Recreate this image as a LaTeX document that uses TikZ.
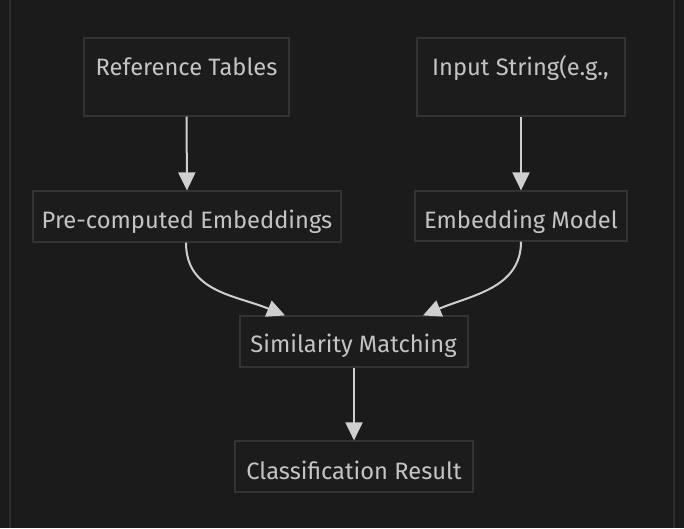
\documentclass[tikz,border=0pt]{standalone}
\usepackage{fontspec}
\setmainfont{Fira Sans}
\usetikzlibrary{arrows.meta}
\definecolor{bgc}{HTML}{1B1B1B}
\definecolor{framec}{HTML}{2E2E2E}
\definecolor{boxline}{HTML}{333333}
\definecolor{boxfill}{HTML}{1C1C1C}
\definecolor{txtc}{HTML}{C4C4C4}
\definecolor{arrc}{HTML}{CFCFCF}
\begin{document}
\begin{tikzpicture}[x=1pt,y=-1pt,
  box/.style={draw=boxline, line width=1.2pt, fill=boxfill, rectangle, inner sep=0pt},
  lbl/.style={text=txtc, anchor=base, inner sep=0pt, font=\fontsize{23.7}{28}\selectfont},
  flow/.style={draw=arrc, line width=2pt, -{Triangle[length=18pt,width=17pt]}}]
\fill[bgc] (0,0) rectangle (684,528);
\useasboundingbox (0,0) rectangle (684,528);
\draw[framec, line width=1.2pt] (10,0) -- (10,528);
\draw[framec, line width=1.2pt] (674,0) -- (674,528);
% boxes
\node[box, minimum width=205pt, minimum height=78pt] (ref) at (186.5,77) {};
\node[box, minimum width=208pt, minimum height=78pt] (inp) at (521,77) {};
\node[box, minimum width=308pt, minimum height=51pt] (pre) at (187,216.5) {};
\node[box, minimum width=212pt, minimum height=50pt] (emb) at (521,216) {};
\node[box, minimum width=228pt, minimum height=51pt] (sim) at (354,341.5) {};
\node[box, minimum width=238pt, minimum height=51pt] (cls) at (354,466.5) {};
% labels
\node[lbl] (refT) at (186.5,75) {Reference Tables};
\node[lbl] (inpT) at (520.5,75) {Input String(e.g.,};
\node[lbl] (preT) at (187,228) {Pre-computed Embeddings};
\node[lbl] (embT) at (521,228) {Embedding Model};
\node[lbl] (simT) at (353.5,352) {Similarity Matching};
\node[lbl] (clsT) at (354,479) {Classification Result};
% connectors
\draw[flow] (ref.south) -- (pre.north);
\draw[flow] (inp.south) -- (emb.north);
\draw[flow] ([xshift=-1pt]pre.south) .. controls (186,292) and (235,295) .. ([xshift=-69pt]sim.north);
\draw[flow] (emb.south) .. controls (521,288) and (472,295) .. ([xshift=69pt]sim.north);
\draw[flow] (sim.south) -- (cls.north);
\end{tikzpicture}
\end{document}
